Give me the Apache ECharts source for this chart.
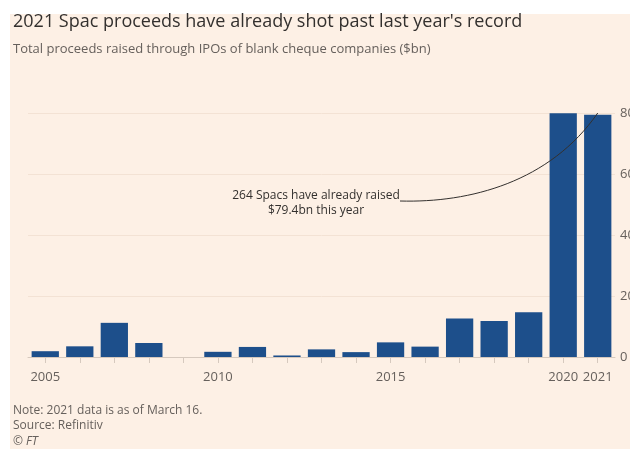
<!DOCTYPE html>
<html>
<head>
<meta charset="utf-8">
<script src="https://cdn.jsdelivr.net/npm/echarts@6/dist/echarts.min.js"></script>
<style>
  html, body { margin: 0; padding: 0; background: #ffffff; }
  #chart { width: 630px; height: 449px; }
</style>
</head>
<body>
<div id="chart"></div>
<script>
// Annual Spac IPO proceeds, $bn (Refinitiv); 2021 is year to date
const years = ['2005','2006','2007','2008','2009','2010','2011','2012','2013',
               '2014','2015','2016','2017','2018','2019','2020','2021'];
const proceeds = [1.9, 3.5, 11.2, 4.6, 0, 1.7, 3.3, 0.5, 2.5,
                  1.6, 4.8, 3.4, 12.6, 11.8, 14.7, 79.9, 79.4];
const labelledYears = ['2005', '2010', '2015', '2020', '2021'];
const yTicks = [0, 20, 40, 60, 80];

const FONT = '"Open Sans", sans-serif';
const PEACH = '#fdf0e5';
const INK = '#33302e';
const GREY = '#66605c';
const BLUE = '#1d4f8b';

const staticGraphics = [
  { type: 'rect', silent: true, z: -10, shape: { x: 10, y: 14, width: 620, height: 435 }, style: { fill: PEACH } },
  { type: 'text', left: 13, top: 13, style: { text: "2021 Spac proceeds have already shot past last year's record", font: '18px ' + FONT, fill: INK } },
  { type: 'text', left: 13, top: 43, style: { text: 'Total proceeds raised through IPOs of blank cheque companies ($bn)', font: '13px ' + FONT, fill: GREY } },
  { type: 'text', left: 13, top: 405, style: { text: 'Note: 2021 data is as of March 16.', font: '12px ' + FONT, fill: GREY } },
  { type: 'text', left: 13, top: 420, style: { text: 'Source: Refinitiv', font: '12px ' + FONT, fill: GREY } },
  { type: 'text', left: 13, top: 436, style: { text: '\u00A9 FT', font: 'italic 12px ' + FONT, fill: GREY } }
];

const chart = echarts.init(document.getElementById('chart'));

chart.setOption({
  animation: false,
  backgroundColor: 'transparent',
  textStyle: { fontFamily: FONT },
  grid: { left: 28, right: 15, top: 113, bottom: 92, containLabel: false, outerBoundsMode: 'none' },
  xAxis: {
    type: 'category',
    data: years,
    boundaryGap: true,
    axisLine: { show: true, lineStyle: { color: '#d6c9be', width: 1 } },
    axisTick: { show: true, alignWithLabel: true, length: 6, lineStyle: { color: '#d6c9be' } },
    axisLabel: {
      interval: 0,
      margin: 14,
      color: GREY,
      fontSize: 13,
      fontFamily: FONT,
      formatter: v => labelledYears.includes(v) ? v : ''
    },
    splitLine: { show: false }
  },
  yAxis: {
    type: 'value',
    position: 'right',
    min: yTicks[0],
    max: yTicks[yTicks.length - 1],
    interval: 20,
    axisLine: { show: false },
    axisTick: { show: false },
    axisLabel: { margin: 5, align: 'left', color: GREY, fontSize: 13, fontFamily: FONT },
    splitLine: { show: true, lineStyle: { color: '#f3e2d4', width: 1 } }
  },
  series: [{
    type: 'bar',
    data: proceeds,
    barCategoryGap: '21%',
    itemStyle: { color: BLUE },
    z: 3
  }],
  graphic: staticGraphics
});

// Annotation: text beside the 2013-2016 bars, curve running to the top of the 2021 bar
const end = chart.convertToPixel({ xAxisIndex: 0, yAxisIndex: 0 }, ['2021', 80]);
const start = [400, 201];
chart.setOption({
  graphic: staticGraphics.concat([
    {
      type: 'text', z: 10,
      x: 316, y: 188,
      style: {
        text: '264 Spacs have already raised\n$79.4bn this year',
        font: '12px ' + FONT, fill: INK, align: 'center', lineHeight: 15
      }
    },
    {
      type: 'bezierCurve', z: 10, silent: true,
      shape: {
        x1: start[0], y1: start[1],
        cpx1: 470, cpy1: 203,
        cpx2: 550, cpy2: 182,
        x2: end[0], y2: end[1]
      },
      style: { stroke: INK, lineWidth: 1, fill: null }
    }
  ])
});
</script>
</body>
</html>
